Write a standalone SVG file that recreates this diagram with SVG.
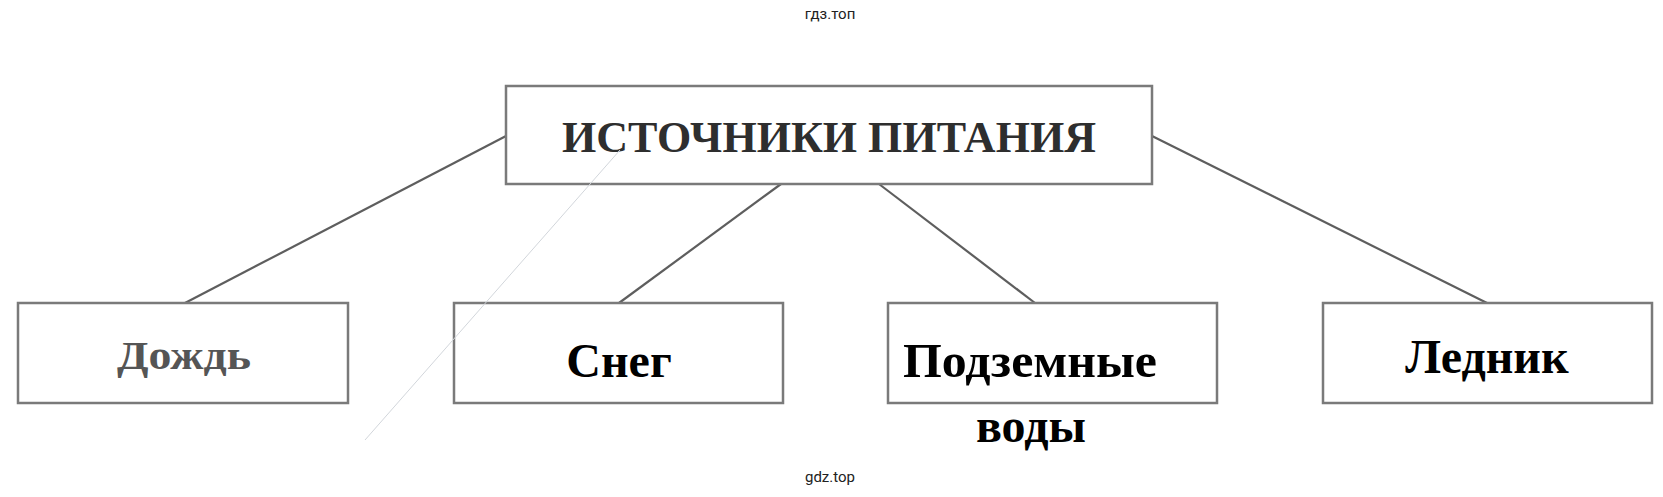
<svg xmlns="http://www.w3.org/2000/svg" width="1663" height="497" viewBox="0 0 1663 497">
<style>
.box{fill:#fff;stroke:#7a7a7a;stroke-width:2.5}
.conn{stroke:#5e5e5e;stroke-width:2.2;fill:none}
.lbl{font-family:"Liberation Serif","Times New Roman",serif;font-weight:bold;text-anchor:middle}
.wm{font-family:Roboto,"Liberation Sans",sans-serif;font-size:15px;fill:#222;text-anchor:middle}
</style>
<rect width="1663" height="497" fill="#fff"/>
<text class="wm" x="830" y="19">гдз.топ</text>
<text class="wm" x="830" y="482">gdz.top</text>
<g id="connectors">
<line class="conn" x1="506" y1="136" x2="185" y2="303"/>
<line class="conn" x1="781" y1="184" x2="619" y2="303"/>
<line class="conn" x1="879" y1="184" x2="1035" y2="303"/>
<line class="conn" x1="1152" y1="136" x2="1487" y2="303"/>
</g>
<g id="root">
<rect class="box" x="506" y="86" width="646" height="98"/>
<text class="lbl" x="829" y="152" font-size="44" fill="#2e2e2e" textLength="534" lengthAdjust="spacingAndGlyphs">ИСТОЧНИКИ ПИТАНИЯ</text>
</g>
<g id="rain">
<rect class="box" x="18" y="303" width="330" height="100"/>
<text class="lbl" x="184" y="369" font-size="41" fill="#555" textLength="134" lengthAdjust="spacingAndGlyphs">Дождь</text>
</g>
<g id="snow">
<rect class="box" x="454" y="303" width="329" height="100"/>
<text class="lbl" x="619" y="377" font-size="48" fill="#000">Снег</text>
</g>
<g id="ground">
<rect class="box" x="888" y="303" width="329" height="100"/>
<text class="lbl" x="1030" y="377" font-size="48" fill="#000" textLength="254" lengthAdjust="spacingAndGlyphs">Подземные</text>
<text class="lbl" x="1031" y="442" font-size="48" fill="#000">воды</text>
</g>
<g id="glacier">
<rect class="box" x="1323" y="303" width="329" height="100"/>
<text class="lbl" x="1487" y="373" font-size="48" fill="#000">Ледник</text>
</g>
<line x1="620" y1="150" x2="365" y2="440" stroke="#d2d6db" stroke-width="1"/>
</svg>
